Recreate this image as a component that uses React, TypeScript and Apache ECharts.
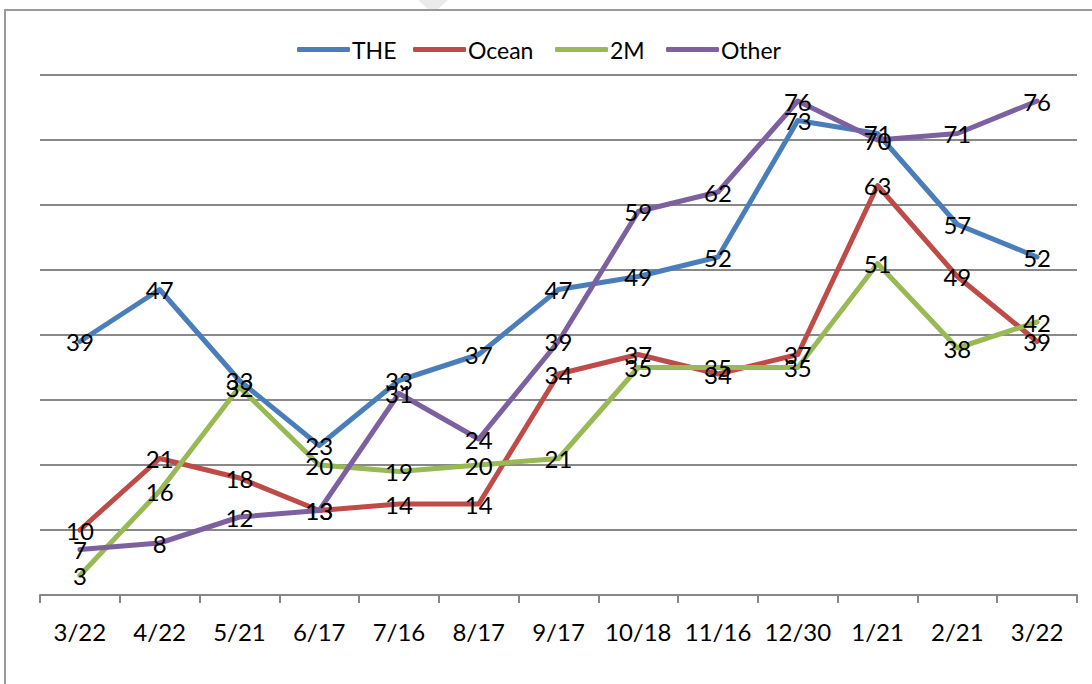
import React, { useEffect, useRef } from "react";
import * as echarts from "echarts";

const categories = ["3/22", "4/22", "5/21", "6/17", "7/16", "8/17", "9/17", "10/18", "11/16", "12/30", "1/21", "2/21", "3/22"];
const theValues = [39, 47, 33, 23, 33, 37, 47, 49, 52, 73, 71, 57, 52];
const oceanValues = [10, 21, 18, 13, 14, 14, 34, 37, 34, 37, 63, 49, 39];
const twoMValues = [3, 16, 32, 20, 19, 20, 21, 35, 35, 35, 51, 38, 42];
const otherValues = [7, 8, 12, 13, 31, 24, 39, 59, 62, 76, 70, 71, 76];

const seriesNames = ["THE", "Ocean", "2M", "Other"];
const seriesColors = ["#4A7EBB", "#BE4B48", "#98B954", "#7D60A0"];
const legendLefts = [297, 413, 555, 666];

const FONT = "Lato, 'Open Sans', sans-serif";

export default function App() {
  const ref = useRef<HTMLDivElement>(null);
  useEffect(() => {
    if (!ref.current) return;
    const chart = echarts.init(ref.current, undefined, { renderer: "svg" });
    const data = [theValues, oceanValues, twoMValues, otherValues];
    chart.setOption({
      animation: false,
      backgroundColor: "#ffffff",
      textStyle: { fontFamily: FONT },
      graphic: [
        {
          type: "rect",
          shape: { x: 5, y: 10, width: 1200, height: 800 },
          style: { fill: "none", stroke: "#9a9a9a", lineWidth: 2 },
          silent: true,
        },
        {
          type: "polygon",
          shape: { points: [[418, 0], [448, 0], [438, 9], [428, 9]] },
          style: { fill: "#ebebeb" },
          silent: true,
        },
      ],
      legend: seriesNames.map((name, i) => ({
        left: legendLefts[i],
        top: 38,
        padding: 0,
        itemWidth: 53,
        itemHeight: 5,
        icon: "roundRect",
        textStyle: { fontFamily: FONT, fontSize: 23, color: "#000", padding: [0, 0, 0, -3] },
        data: [name],
      })),
      grid: { left: 40, right: 15, top: 75, bottom: 89 },
      xAxis: {
        type: "category",
        data: categories,
        boundaryGap: true,
        axisLine: { lineStyle: { color: "#888888", width: 2 } },
        axisTick: { show: true, length: 8, lineStyle: { color: "#888888", width: 2 } },
        axisLabel: { interval: 0, fontFamily: FONT, fontSize: 24, color: "#000", margin: 24 },
      },
      yAxis: {
        type: "value",
        min: 0,
        max: 80,
        interval: 10,
        axisLine: { show: false },
        axisTick: { show: false },
        axisLabel: { show: false },
        splitLine: { lineStyle: { color: "#888888", width: 2 } },
      },
      series: seriesNames.map((name, i) => ({
        name,
        type: "line",
        data: data[i],
        color: seriesColors[i],
        symbol: "circle",
        symbolSize: 0,
        showSymbol: true,
        lineStyle: { width: 5, color: seriesColors[i], cap: "round", join: "round" },
        itemStyle: { color: seriesColors[i] },
        label: {
          show: true,
          position: "inside",
          offset: [0, 2],
          fontFamily: FONT,
          fontSize: 24,
          color: "#000",
        },
        labelLayout: { hideOverlap: false },
      })),
    });
    return () => chart.dispose();
  }, []);
  return (
    <div
      ref={ref}
      style={{ position: "fixed", left: 0, top: 0, width: 1092, height: 684 }}
    />
  );
}
